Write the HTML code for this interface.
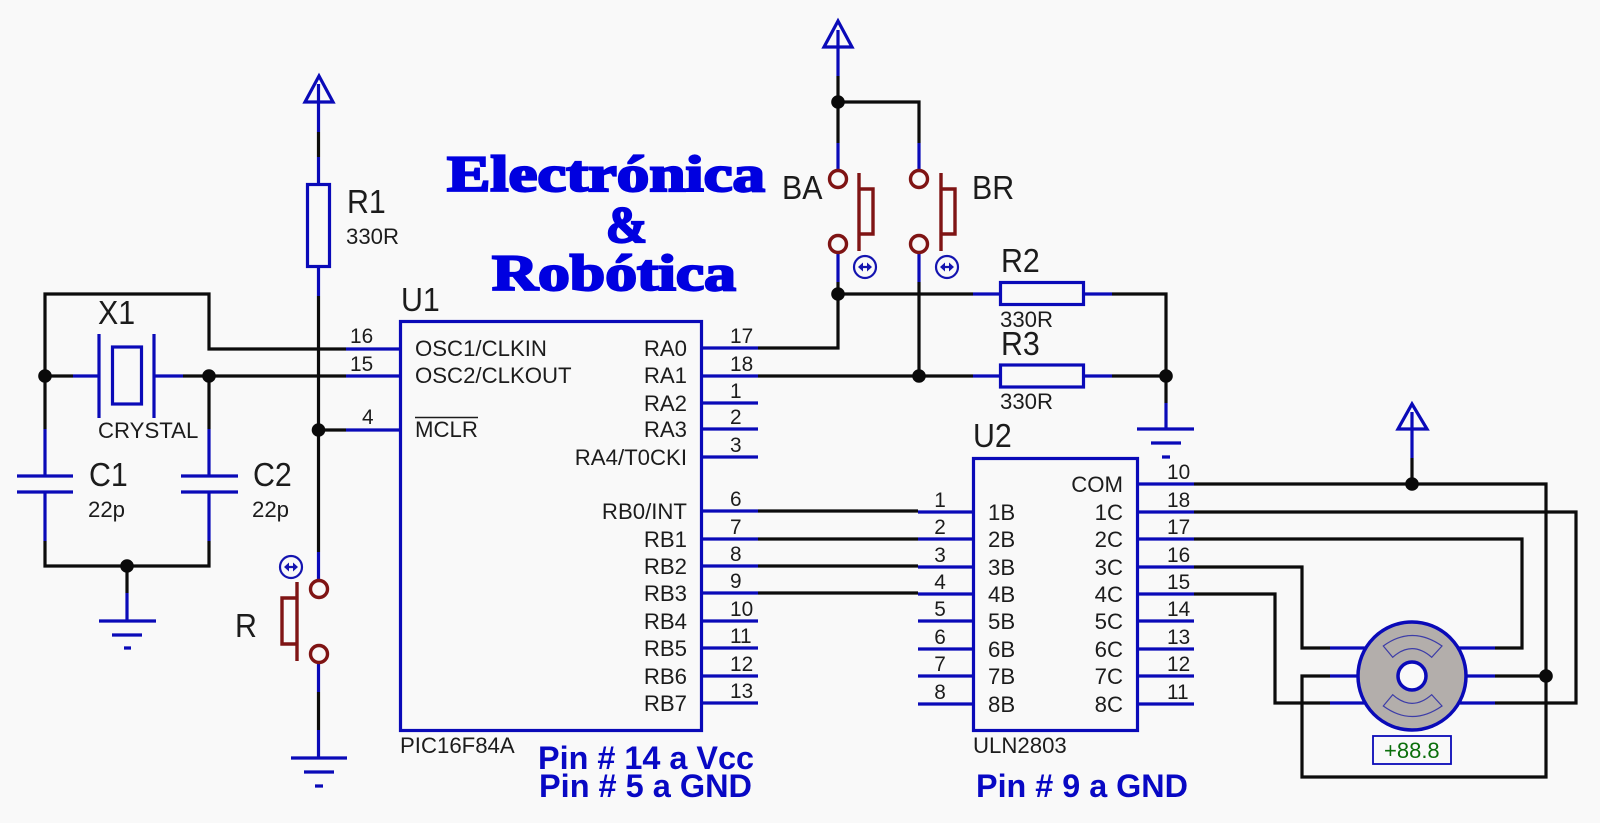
<!DOCTYPE html>
<html><head><meta charset="utf-8"><title>Electrónica &amp; Robótica</title>
<style>
html,body{margin:0;padding:0;background:#f9f9f9;width:1600px;height:823px;overflow:hidden}
svg{display:block}
text{font-family:"Liberation Sans",sans-serif;fill:#1c1c1c}
.b{fill:none;stroke:#0a0ab8;stroke-width:3.2}
.k{fill:none;stroke:#0c0c0c;stroke-width:3.2}
.r{fill:none;stroke:#7f1414;stroke-width:3.4}
.l{font-size:22.2px}
.n{font-size:20.8px}
.big{font-size:33px}
.big text{transform:scale(.92,1);transform-box:fill-box;transform-origin:left bottom}
.e{text-anchor:end}
.c{text-anchor:middle}
.t{font-family:"Liberation Serif",serif;font-weight:bold;font-size:51px;fill:#0000e0;stroke:#0000e0;stroke-width:2.2px}
.p{font-weight:bold;font-size:32px;fill:#0808c4}
</style></head><body>
<svg width="1600" height="823" viewBox="0 0 1600 823" xmlns="http://www.w3.org/2000/svg">
<rect width="1600" height="823" fill="#f9f9f9"/>

<!-- black wires -->
<g class="k" stroke-linejoin="miter">
<path d="M73 376H45M183 376H346M346 349H209V294H45V429M209 376V429M45 541V566H209V541"/>
<path d="M127 566V593"/>
<path d="M318.5 132V157M318.5 296V552M318.5 692V730M318.5 430H346"/>
<path d="M838 76V143M838 102H919V143M838 282V348H758M919 282V376M758 376H973M838 294H973"/>
<path d="M1112 294H1166V403M1112 376H1166"/>
<path d="M758 511H918M758 539H918M758 566H918M758 593H918"/>
<path d="M1412 458V484M1194 484H1546V777H1302V676H1330"/>
<path d="M1194 512H1576V703H1495"/>
<path d="M1194 539H1522V648H1495"/>
<path d="M1194 567H1302V648H1330"/>
<path d="M1194 594H1275V703H1330"/>
<path d="M1495 676H1546"/>
</g>

<!-- junctions -->
<g fill="#0a0a0a">
<circle cx="45" cy="376" r="6.8"/><circle cx="209" cy="376" r="6.8"/><circle cx="127" cy="566" r="6.8"/>
<circle cx="318.5" cy="430" r="6.8"/><circle cx="838" cy="102" r="6.8"/><circle cx="838" cy="294" r="6.8"/>
<circle cx="919" cy="376" r="6.8"/><circle cx="1166" cy="376" r="6.8"/><circle cx="1412" cy="484" r="6.8"/>
<circle cx="1546" cy="676" r="6.8"/>
</g>

<!-- blue symbols -->
<g class="b">
<!-- crystal -->
<path d="M73 376H99M99 334V418M154 334V418M154 376H183"/><rect x="112.500" y="347" width="29" height="57"/>
<!-- caps -->
<path d="M45 429V476M17 476H73M17 492H73M45 492V541M209 429V476M181 476H238M181 492H238M209 492V541"/>
<!-- grounds -->
<path d="M127 593V621M99 621H156M112 635H142M124 648H131"/>
<path d="M318.5 730V758M291 758H347M304 772H334M315 786H323"/>
<path d="M1166 403V429M1137 429H1194M1151 443H1181M1162 457H1170"/>
<!-- R1 + vcc -->
<path d="M318.5 84V132M318.5 157V184M318.5 267V296M305 102H333L319 76Z"/>
<rect x="307.500" y="184.500" width="22" height="82"/>
<!-- vcc BA/BR -->
<path d="M838 30V76M824 47H852L838 21Z"/>
<path d="M838 143V170M919 143V170M838 253V282M919 253V282"/>
<!-- R2 R3 -->
<path d="M973 294H1000M1084 294H1112M973 376H1000M1084 376H1112"/>
<rect x="1000.500" y="282.500" width="83" height="22"/><rect x="1000.500" y="365" width="83" height="22"/>
<!-- vcc motor -->
<path d="M1412 412V458M1398 429H1427L1412 404Z"/>
<!-- reset switch leads -->
<path d="M318.5 552V580M318.500 663V692"/>
<!-- U1 -->
<rect x="400.500" y="321.500" width="301" height="409"/>
<path d="M346 349H400M346 376H400M346 430H400"/>
<path d="M702 348H758M702 376H758M702 403H758M702 429H758M702 457H758M702 511H758M702 539H758M702 566H758M702 593H758M702 621H758M702 648H758M702 676H758M702 703H758"/>
<!-- U2 -->
<rect x="973.500" y="458.500" width="164" height="272"/>
<path d="M918 512H973M918 539H973M918 567H973M918 594H973M918 621H973M918 649H973M918 676H973M918 704H973"/>
<path d="M1138 484H1194M1138 512H1194M1138 539H1194M1138 567H1194M1138 594H1194M1138 621H1194M1138 649H1194M1138 676H1194M1138 704H1194"/>
<!-- motor leads -->
<path d="M1330 648H1366M1330 676H1358M1330 703H1366M1458 648H1495M1467 676H1495M1458 703H1495"/>
</g>

<!-- motor -->
<circle cx="1412" cy="676" r="54" fill="#b3aeab" stroke="#0a0ab8" stroke-width="3.500"/>
<circle cx="1412" cy="676" r="14" fill="#f9f9f9" stroke="#0a0ab8" stroke-width="3.500"/>
<path d="M1383.300 646Q1412 625 1442 646L1431.700 657.300Q1412 640 1392.700 657.300Z" fill="none" stroke="#3c3ca8" stroke-width="1.200"/>
<path d="M1383.300 706Q1412 727 1442 706L1431.700 694.700Q1412 712 1392.700 694.700Z" fill="none" stroke="#3c3ca8" stroke-width="1.200"/>
<rect x="1373" y="736" width="78" height="28" fill="none" stroke="#0a0ab8" stroke-width="1.800"/>
<text x="1384" y="758" font-size="22" style="fill:#0b6f0b">+88.8</text>

<!-- switches -->
<g class="r">
<circle cx="838" cy="179" r="8.500"/><circle cx="838" cy="244" r="8.500"/>
<path d="M859 173V251M859 189H873V234H859"/>
<circle cx="919" cy="179" r="8.500"/><circle cx="919" cy="244" r="8.500"/>
<path d="M941 173V251M941 189H955V234H941"/>
<circle cx="319" cy="589" r="8.500"/><circle cx="319" cy="654" r="8.500"/>
<path d="M297 582V661M297 598H282V644H297"/>
</g>
<g fill="none" stroke="#1414b0" stroke-width="2.200">
<circle cx="865" cy="267" r="11"/><circle cx="947" cy="267" r="11"/><circle cx="291" cy="567" r="11"/>
<path d="M860 267H870M942 267H952M286 567H296"/>
</g>
<g fill="#1414b0">
<path d="M858 267l5-4.500v9zM872 267l-5-4.500v9zM940 267l5-4.500v9zM954 267l-5-4.500v9zM284 567l5-4.500v9zM298 567l-5-4.500v9z"/>
</g>

<!-- title -->
<text class="t" x="447" y="191" textLength="318" lengthAdjust="spacingAndGlyphs">Electrónica</text>
<text class="t" x="606" y="242" textLength="41" lengthAdjust="spacingAndGlyphs">&amp;</text>
<text class="t" x="492" y="290" textLength="244" lengthAdjust="spacingAndGlyphs">Robótica</text>

<!-- refs -->
<g class="big">
<text x="98" y="324">X1</text><text x="89" y="486">C1</text><text x="253" y="486">C2</text>
<text x="347" y="213">R1</text><text x="401" y="311">U1</text><text x="235" y="637">R</text>
<text x="782" y="199">BA</text><text x="972" y="199">BR</text>
<text x="1001" y="272">R2</text><text x="1001" y="355">R3</text><text x="973" y="447">U2</text>
</g>
<g class="l">
<text x="98" y="438">CRYSTAL</text><text x="88" y="517">22p</text><text x="252" y="517">22p</text>
<text x="346" y="244">330R</text><text x="1000" y="327">330R</text><text x="1000" y="409">330R</text>
<text x="400" y="753">PIC16F84A</text><text x="973" y="753">ULN2803</text>
<text x="415" y="356">OSC1/CLKIN</text><text x="415" y="383">OSC2/CLKOUT</text><text x="415" y="437">MCLR</text>
</g>
<path d="M415 417.500H478" stroke="#1c1c1c" stroke-width="1.500"/>
<g class="l e">
<text x="687" y="356">RA0</text><text x="687" y="383">RA1</text><text x="687" y="411">RA2</text><text x="687" y="437">RA3</text><text x="687" y="465">RA4/T0CKI</text>
<text x="687" y="519">RB0/INT</text><text x="687" y="547">RB1</text><text x="687" y="574">RB2</text><text x="687" y="601">RB3</text>
<text x="687" y="629">RB4</text><text x="687" y="656">RB5</text><text x="687" y="684">RB6</text><text x="687" y="711">RB7</text>
<text x="1123" y="492">COM</text><text x="1123" y="520">1C</text><text x="1123" y="547">2C</text><text x="1123" y="575">3C</text><text x="1123" y="602">4C</text>
<text x="1123" y="629">5C</text><text x="1123" y="657">6C</text><text x="1123" y="684">7C</text><text x="1123" y="712">8C</text>
</g>
<g class="l">
<text x="988" y="520">1B</text><text x="988" y="547">2B</text><text x="988" y="575">3B</text><text x="988" y="602">4B</text>
<text x="988" y="629">5B</text><text x="988" y="657">6B</text><text x="988" y="684">7B</text><text x="988" y="712">8B</text>
</g>
<g class="n">
<text x="350" y="343">16</text><text x="350" y="371">15</text><text x="362" y="424">4</text>
<text x="730" y="343">17</text><text x="730" y="371">18</text><text x="730" y="398">1</text><text x="730" y="424">2</text><text x="730" y="452">3</text>
<text x="730" y="506">6</text><text x="730" y="534">7</text><text x="730" y="561">8</text><text x="730" y="588">9</text>
<text x="730" y="616">10</text><text x="730" y="643">11</text><text x="730" y="671">12</text><text x="730" y="698">13</text>
<text x="1167" y="479">10</text><text x="1167" y="507">18</text><text x="1167" y="534">17</text><text x="1167" y="562">16</text><text x="1167" y="589">15</text>
<text x="1167" y="616">14</text><text x="1167" y="644">13</text><text x="1167" y="671">12</text><text x="1167" y="699">11</text>
</g>
<g class="n c">
<text x="940" y="507">1</text><text x="940" y="534">2</text><text x="940" y="562">3</text><text x="940" y="589">4</text>
<text x="940" y="616">5</text><text x="940" y="644">6</text><text x="940" y="671">7</text><text x="940" y="699">8</text>
</g>
<text class="p" x="538" y="769" textLength="216" lengthAdjust="spacingAndGlyphs">Pin # 14 a Vcc</text>
<text class="p" x="539" y="797" textLength="213" lengthAdjust="spacingAndGlyphs">Pin # 5 a GND</text>
<text class="p" x="976" y="797" textLength="212" lengthAdjust="spacingAndGlyphs">Pin # 9 a GND</text>
</svg>
</body></html>
